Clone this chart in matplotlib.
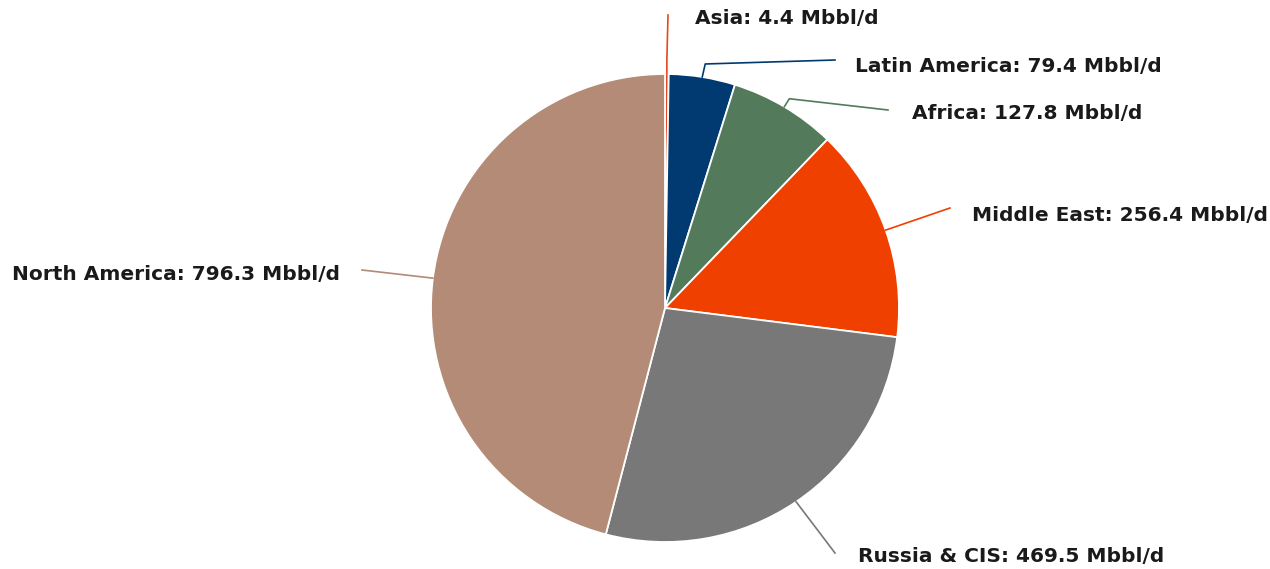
import numpy as np
import matplotlib.pyplot as plt

# regions and crude production (Mbbl/d)
regions = ["Asia", "Latin America", "Africa", "Middle East", "Russia & CIS", "North America"]
values = [4.4, 79.4, 127.8, 256.4, 469.5, 796.3]
colors = ["#e8471f", "#003a70", "#537b5b", "#f04000", "#787878", "#b38b76"]

W, H = 1270, 569
fig = plt.figure(figsize=(W / 100, H / 100), dpi=100)
ax = fig.add_axes([0, 0, 1, 1])

cx, cy, r = 665, H - 308, 234
wedges, _ = ax.pie(values, colors=colors, startangle=90, counterclock=False,
                   center=(cx, cy), radius=r, frame=True,
                   wedgeprops=dict(edgecolor="white", linewidth=1.3))
ax.set_xlim(0, W)
ax.set_ylim(0, H)
ax.set_aspect("equal")
ax.axis("off")

# label placement: elbow offset from wedge edge, line end, text anchor (px from top)
layout = {
    "Asia":          dict(elbow=(0, 14), end=(668, 15), text=(695, 18), ha="left"),
    "Latin America": dict(elbow=(3, 13), end=(835, 60), text=(855, 66), ha="left"),
    "Africa":        dict(elbow=(5, 8), end=(888, 110), text=(912, 113), ha="left"),
    "Middle East":   dict(elbow=(0, 0), end=(950, 208), text=(972, 215), ha="left"),
    "Russia & CIS":  dict(elbow=(0, 0), end=(835, 553), text=(858, 556), ha="left"),
    "North America": dict(elbow=(0, 0), end=(362, 270), text=(340, 274), ha="right"),
}

for w, name, val, col in zip(wedges, regions, values, colors):
    mid = np.deg2rad((w.theta1 + w.theta2) / 2)
    x0 = cx + r * np.cos(mid)
    y0 = cy + r * np.sin(mid)
    L = layout[name]
    ex, ey = L["elbow"]
    x1, y1 = x0 + ex, y0 + ey
    x2, y2 = L["end"][0], H - L["end"][1]
    ax.plot([x0, x1, x2], [y0, y1, y2], color=col, lw=1.2, solid_joinstyle="round")
    tx, ty = L["text"]
    ax.text(tx, H - ty, f"{name}: {val} Mbbl/d", ha=L["ha"], va="center",
            fontsize=14.5, fontweight="bold", color="#1a1a1a", family="DejaVu Sans")

fig.savefig("out.png", dpi=100, facecolor="white")
